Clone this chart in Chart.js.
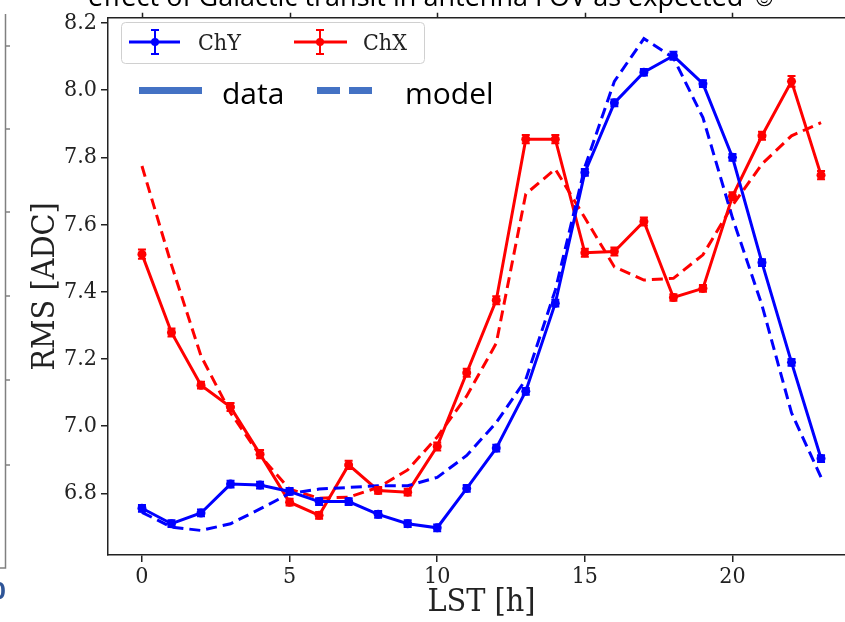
<!DOCTYPE html>
<html>
<head>
<meta charset="utf-8">
<script src="https://cdn.jsdelivr.net/npm/chart.js@4.4.1/dist/chart.umd.min.js"></script>
<style>
  html, body { margin: 0; padding: 0; background: #fff; overflow: hidden; }
  #wrap { width: 845px; height: 622px; overflow: hidden; position: relative; }
  #wrap canvas { position: absolute; left: 0; top: 0; }
</style>
</head>
<body>
<div id="wrap"><canvas id="rms" width="860" height="622"></canvas></div>
<script>
// --- DADOS ---
const lstHours = [0, 1, 2, 3, 4, 5, 6, 7, 8, 9, 10, 11, 12, 13, 14, 15, 16, 17, 18, 19, 20, 21, 22, 23];

const chYData  = [6.756, 6.710, 6.742, 6.828, 6.825, 6.806, 6.776, 6.776, 6.738, 6.710, 6.698, 6.815,
                  6.935, 7.104, 7.366, 7.755, 7.962, 8.053, 8.102, 8.019, 7.800, 7.487, 7.190, 6.904];
const chYModel = [6.744, 6.700, 6.690, 6.710, 6.754, 6.800, 6.813, 6.818, 6.823, 6.823, 6.848, 6.913,
                  7.011, 7.139, 7.405, 7.771, 8.026, 8.153, 8.096, 7.918, 7.620, 7.360, 7.040, 6.848];
const chYErr   = [0.010, 0.010, 0.010, 0.010, 0.010, 0.010, 0.010, 0.010, 0.010, 0.010, 0.010, 0.010,
                  0.010, 0.010, 0.010, 0.010, 0.010, 0.010, 0.012, 0.010, 0.010, 0.010, 0.010, 0.010];

const chXData  = [7.512, 7.279, 7.122, 7.057, 6.917, 6.774, 6.735, 6.885, 6.809, 6.804, 6.940, 7.159,
                  7.375, 7.854, 7.854, 7.516, 7.520, 7.609, 7.383, 7.410, 7.684, 7.864, 8.026, 7.747];
const chXModel = [7.774, 7.480, 7.209, 7.040, 6.913, 6.813, 6.786, 6.789, 6.818, 6.870, 6.968, 7.090,
                  7.247, 7.691, 7.765, 7.620, 7.474, 7.435, 7.440, 7.510, 7.657, 7.780, 7.864, 7.903];
const chXErr   = [0.014, 0.012, 0.010, 0.012, 0.012, 0.010, 0.010, 0.012, 0.010, 0.010, 0.012, 0.012,
                  0.012, 0.012, 0.012, 0.012, 0.012, 0.012, 0.010, 0.010, 0.012, 0.012, 0.016, 0.012];

const xTicks = [0, 5, 10, 15, 20];
const yTicks = [6.8, 7.0, 7.2, 7.4, 7.6, 7.8, 8.0, 8.2];

const toPoints = (values) => lstHours.map((h, i) => ({ x: h, y: values[i] }));

// --- CORES / FONTES ---
const BLUE = '#0000ff';
const RED = '#ff0000';
const AXIS = '#222222';
const SLIDE_BLUE = '#4472c4';
const serif = "'DejaVu Serif Condensed', 'DejaVu Serif', serif";
const sans = "'Open Sans', 'Liberation Sans', 'DejaVu Sans', sans-serif";

// Barras de erro + moldura de cima + elementos do slide
const slideExtras = {
    id: 'slideExtras',
    beforeDraw(chart) {
        const ctx = chart.ctx;
        ctx.save();
        ctx.fillStyle = '#fff';
        ctx.fillRect(0, 0, chart.width, chart.height);
        ctx.restore();
    },
    afterDatasetsDraw(chart) {
        const ctx = chart.ctx;
        const yScale = chart.scales.y;
        ctx.save();
        chart.data.datasets.forEach((ds, i) => {
            if (!ds.errors) return;
            const meta = chart.getDatasetMeta(i);
            ctx.strokeStyle = ds.borderColor;
            ctx.lineWidth = 2;
            meta.data.forEach((pt, j) => {
                const v = ds.data[j].y;
                const yTop = yScale.getPixelForValue(v + ds.errors[j]);
                const yBot = yScale.getPixelForValue(v - ds.errors[j]);
                ctx.beginPath();
                ctx.moveTo(pt.x, yTop); ctx.lineTo(pt.x, yBot);
                ctx.moveTo(pt.x - 4, yTop); ctx.lineTo(pt.x + 4, yTop);
                ctx.moveTo(pt.x - 4, yBot); ctx.lineTo(pt.x + 4, yBot);
                ctx.stroke();
            });
        });
        ctx.restore();
    },
    afterDraw(chart) {
        const ctx = chart.ctx;
        const area = chart.chartArea;
        const xScale = chart.scales.x;
        ctx.save();

        // moldura de cima com pequenos ticks
        ctx.strokeStyle = AXIS;
        ctx.lineWidth = 1.5;
        ctx.beginPath();
        ctx.moveTo(area.left, area.top); ctx.lineTo(area.right, area.top);
        xTicks.forEach(v => {
            const x = Math.round(xScale.getPixelForValue(v)) + 0.5;
            ctx.moveTo(x, area.top); ctx.lineTo(x, area.top - 5);
        });
        ctx.stroke();

        // título do slide (cortado no topo)
        const title = 'effect of Galactic transit in antenna FOV as expected \u263A';
        ctx.font = '28px ' + sans;
        ctx.fillStyle = '#000';
        ctx.textBaseline = 'alphabetic';
        const w = ctx.measureText(title).width;
        ctx.save();
        ctx.translate(88, 6);
        ctx.scale(690 / w, 1);
        ctx.fillText(title, 0, 0);
        ctx.restore();

        // resto do gráfico vizinho à esquerda
        ctx.strokeStyle = '#808080';
        ctx.lineWidth = 1.5;
        ctx.beginPath();
        ctx.moveTo(5.5, 14); ctx.lineTo(5.5, 568); ctx.lineTo(0, 568);
        [46, 129, 212, 296, 380, 465].forEach(y => { ctx.moveTo(5.5, y); ctx.lineTo(10, y); });
        ctx.stroke();
        ctx.fillStyle = '#2f5597';
        ctx.font = 'bold 24px ' + sans;
        ctx.textBaseline = 'middle';
        ctx.fillText('0', -8, 592);

        // legenda ChY / ChX
        ctx.fillStyle = 'rgba(255,255,255,0.85)';
        ctx.strokeStyle = '#d0d0d0';
        ctx.lineWidth = 1;
        ctx.beginPath();
        ctx.roundRect(121.5, 22.5, 303, 41, 4);
        ctx.fill();
        ctx.stroke();

        const legendEntry = (x0, x1, xm, color, label, xt) => {
            ctx.strokeStyle = color;
            ctx.fillStyle = color;
            ctx.lineWidth = 3;
            ctx.beginPath(); ctx.moveTo(x0, 42); ctx.lineTo(x1, 42); ctx.stroke();
            ctx.lineWidth = 2;
            ctx.beginPath();
            ctx.moveTo(xm, 30); ctx.lineTo(xm, 54);
            ctx.moveTo(xm - 4, 30); ctx.lineTo(xm + 4, 30);
            ctx.moveTo(xm - 4, 54); ctx.lineTo(xm + 4, 54);
            ctx.stroke();
            ctx.beginPath(); ctx.arc(xm, 42, 4, 0, Math.PI * 2); ctx.fill();
            ctx.fillStyle = AXIS;
            ctx.font = '23px ' + serif;
            ctx.textBaseline = 'alphabetic';
            ctx.fillText(label, xt, 50);
        };
        legendEntry(129, 180, 155, BLUE, 'ChY', 198);
        legendEntry(294, 347, 320, RED, 'ChX', 363);

        // legenda data / model (caixa de texto do slide)
        ctx.fillStyle = SLIDE_BLUE;
        ctx.fillRect(139, 87, 63, 7);
        ctx.fillRect(317, 87, 23, 7);
        ctx.fillRect(349, 87, 23, 7);
        ctx.fillStyle = '#000';
        ctx.font = '30px ' + sans;
        ctx.textBaseline = 'alphabetic';
        ctx.fillText('data', 222, 104);
        ctx.fillText('model', 405, 104);

        ctx.restore();
    }
};

const tickFont = { family: serif, size: 23 };
const titleFont = { family: serif, size: 32 };

new Chart(document.getElementById('rms'), {
    type: 'line',
    data: {
        datasets: [
            { label: 'ChY', data: toPoints(chYData), errors: chYErr, borderColor: BLUE, backgroundColor: BLUE,
              borderWidth: 3, pointRadius: 4.5, pointBorderWidth: 0, tension: 0 },
            { label: 'ChY model', data: toPoints(chYModel), borderColor: BLUE, borderWidth: 3,
              borderDash: [11, 6], pointRadius: 0, tension: 0 },
            { label: 'ChX', data: toPoints(chXData), errors: chXErr, borderColor: RED, backgroundColor: RED,
              borderWidth: 3, pointRadius: 4.5, pointBorderWidth: 0, tension: 0 },
            { label: 'ChX model', data: toPoints(chXModel), borderColor: RED, borderWidth: 3,
              borderDash: [11, 6], pointRadius: 0, tension: 0 }
        ]
    },
    options: {
        responsive: false,
        animation: false,
        devicePixelRatio: 1,
        layout: { padding: { top: 13, right: 5, left: 0, bottom: 0 } },
        plugins: { legend: { display: false }, tooltip: { enabled: false } },
        scales: {
            x: {
                type: 'linear',
                min: -1.15,
                max: 24.15,
                afterBuildTicks: (s) => { s.ticks = xTicks.map(v => ({ value: v })); },
                afterFit: (s) => { s.height = 67; },
                grid: { drawOnChartArea: false, tickLength: 7, color: AXIS, lineWidth: 1.5 },
                border: { color: AXIS, width: 1.5 },
                ticks: { font: tickFont, color: AXIS, padding: 1, maxRotation: 0 },
                title: { display: true, text: 'LST [h]', font: titleFont, color: AXIS, padding: { top: 0, bottom: 0 } }
            },
            y: {
                min: 6.617,
                max: 8.215,
                afterBuildTicks: (s) => { s.ticks = yTicks.map(v => ({ value: v })); },
                afterFit: (s) => { s.width = 108; },
                grid: { drawOnChartArea: false, tickLength: 7, color: AXIS, lineWidth: 1.5 },
                border: { color: AXIS, width: 1.5 },
                ticks: { font: tickFont, color: AXIS, padding: 4, callback: (v) => v.toFixed(1) },
                title: { display: true, text: 'RMS [ADC]', font: titleFont, color: AXIS, padding: { top: 26, bottom: 0 } }
            }
        }
    },
    plugins: [slideExtras]
});
</script>
</body>
</html>
